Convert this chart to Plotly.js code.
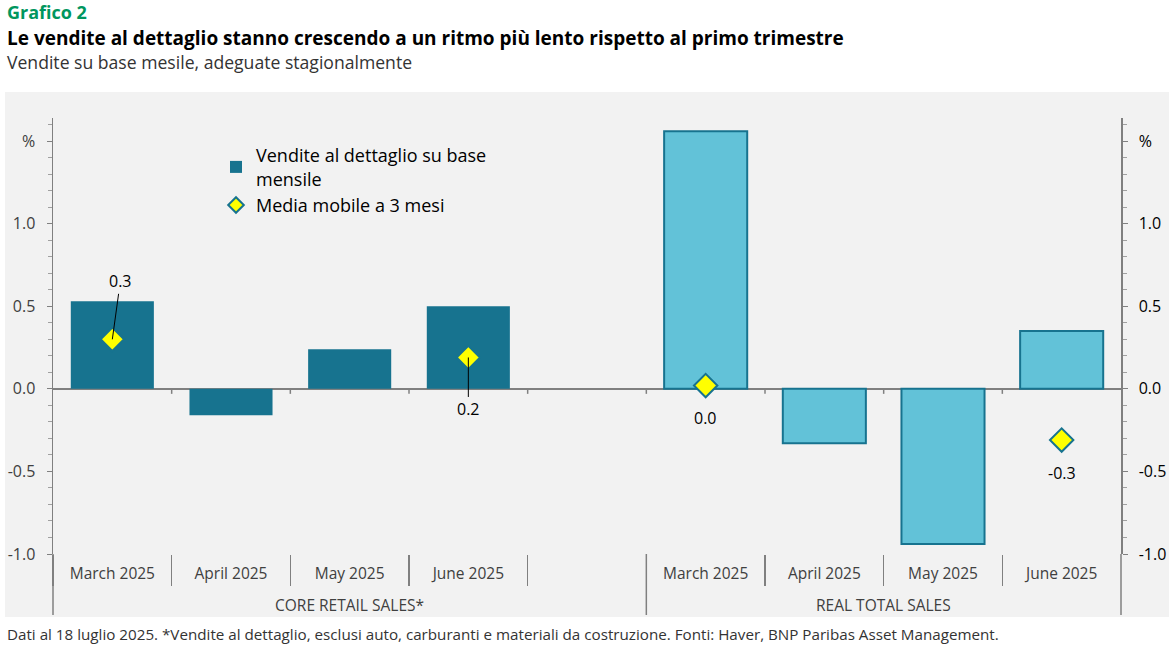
<!DOCTYPE html>
<html>
<head>
<meta charset="utf-8">
<script src="https://cdn.plot.ly/plotly-3.0.1.min.js"></script>
<style>
  html, body { margin: 0; padding: 0; background: #fff; }
  #chart { width: 1169px; height: 645px; }
</style>
</head>
<body>
<div id="chart"></div>
<script>
// Chart data
const groups = ['CORE RETAIL SALES*', 'REAL TOTAL SALES'];
const months = ['March 2025', 'April 2025', 'May 2025', 'June 2025'];
const coreMonthly = [0.53, -0.16, 0.24, 0.50];
const realMonthly = [1.56, -0.33, -0.94, 0.35];
const coreMA = [0.30, null, null, 0.19];
const realMA = [0.02, null, null, -0.31];
const yTickVals = [-1, -0.5, 0, 0.5, 1, 1.5];
const yTickText = ['-1.0', '-0.5', '0.0', '0.5', '1.0', '%'];

const DARK = '#17738f';
const LIGHT = '#62c2d8';
const GRID = '#808080';
const FONT = '"Open Sans", Roboto, sans-serif';

// pixel -> paper helpers for the text blocks around the plot
const W = 1169, H = 645, L = 53, R = 48, T = 118, B = 91;
const px = x => (x - L) / (W - L - R);
const py = y => (H - B - y) / (H - T - B);

// core group keeps an empty fifth slot, as in the original
const coreCats = months.concat(' ');
const nSlots = coreCats.length + months.length;
const split = coreCats.length / nSlots;

const diamond = { symbol: 'diamond', size: 18, color: '#ffff00', line: { color: DARK, width: 2 } };

const traces = [
  {
    type: 'bar', name: 'Vendite al dettaglio su base<br>mensile',
    x: coreCats, y: coreMonthly.concat(null), xaxis: 'x', yaxis: 'y',
    marker: { color: DARK, line: { width: 0 } }, hoverinfo: 'skip'
  },
  {
    type: 'bar', showlegend: false,
    x: months, y: realMonthly, xaxis: 'x2', yaxis: 'y2',
    marker: { color: LIGHT, line: { color: DARK, width: 2 } }, hoverinfo: 'skip'
  },
  {
    type: 'scatter', mode: 'markers', name: 'Media mobile a 3 mesi',
    x: months, y: coreMA, xaxis: 'x', yaxis: 'y',
    marker: diamond, hoverinfo: 'skip'
  },
  {
    type: 'scatter', mode: 'markers', showlegend: false,
    x: months, y: realMA, xaxis: 'x2', yaxis: 'y2',
    marker: diamond, hoverinfo: 'skip'
  }
];

// value labels for the moving average
const labels = [];
const labelOffsets = [
  [{ ax: 8, ay: -58, arrow: true }, null, null, { ax: 0, ay: 52, arrow: true }],
  [{ shift: -32 }, null, null, { shift: -33 }]
];
[[coreMA, 'x', 'y'], [realMA, 'x2', 'y2']].forEach(([vals, xr, yr], g) => {
  vals.forEach((v, i) => {
    if (v === null) return;
    const o = labelOffsets[g][i];
    const a = {
      x: months[i], y: v, xref: xr, yref: yr,
      text: v.toFixed(1), font: { family: FONT, size: 16, color: '#000' }
    };
    if (o.arrow) {
      Object.assign(a, { showarrow: true, arrowhead: 0, arrowwidth: 1, arrowcolor: '#000',
        ax: o.ax, ay: o.ay, standoff: 0, startstandoff: 0 });
    } else {
      Object.assign(a, { showarrow: false, yshift: o.shift });
    }
    labels.push(a);
  });
});

// group names under the month labels
const groupLabels = groups.map((g, i) => ({
  text: g, xref: 'paper', yref: 'paper',
  x: i === 0 ? split / 2 : (1 + split) / 2, y: py(605),
  xanchor: 'center', yanchor: 'middle', showarrow: false,
  font: { family: FONT, size: 15.5, color: '#404040' }
}));

const textBlocks = [
  { text: '<b>Grafico 2</b>', y: 12, size: 18, color: '#00965e' },
  { text: '<b>Le vendite al dettaglio stanno crescendo a un ritmo più lento rispetto al primo trimestre</b>', y: 38, size: 19, color: '#000' },
  { text: 'Vendite su base mesile, adeguate stagionalmente', y: 62, size: 17.6, color: '#333' },
  { text: 'Dati al 18 luglio 2025. *Vendite al dettaglio, esclusi auto, carburanti e materiali da costruzione. Fonti: Haver, BNP Paribas Asset Management.', y: 634, size: 15.2, color: '#333' }
].map(t => ({
  text: t.text, xref: 'paper', yref: 'paper', x: px(5), y: py(t.y),
  xanchor: 'left', yanchor: 'middle', showarrow: false,
  font: { family: FONT, size: t.size, color: t.color }
}));

// short ticks hanging from the zero line, and the long group dividers
const decor = [];
for (let k = 1; k < nSlots; k++) {
  decor.push({
    type: 'line', xref: 'paper', yref: 'y', x0: k / nSlots, x1: k / nSlots,
    ysizemode: 'pixel', yanchor: 0, y0: 0, y1: -5,
    line: { color: GRID, width: 1.5 }
  });
}
[0, split, 1].forEach(x => decor.push({
  type: 'line', xref: 'paper', yref: 'paper', x0: x, x1: x, y0: py(615), y1: 0,
  line: { color: GRID, width: 1.5 }
}));

const yCommon = {
  range: [-1.0, 1.64], tickmode: 'array', tickvals: yTickVals, ticktext: yTickText,
  ticks: 'outside', ticklen: 5, tickcolor: GRID, tickwidth: 1,
  minor: { tickmode: 'linear', tick0: 0, dtick: 0.1, ticks: 'outside', ticklen: 4, tickcolor: '#a0a0a0', showgrid: false },
  showgrid: false, showline: true, linecolor: GRID, linewidth: 1.5,
  zeroline: true, zerolinecolor: GRID, zerolinewidth: 2,
  ticklabelstandoff: 8, fixedrange: true
};

const xCommon = {
  type: 'category', tickson: 'boundaries', ticks: 'outside', ticklen: 31,
  tickcolor: GRID, tickwidth: 1.5, showline: false, showgrid: false, zeroline: false,
  ticklabelstandoff: 8,
  tickfont: { family: FONT, size: 15.5, color: '#404040' }, fixedrange: true
};

const layout = {
  width: W, height: H,
  margin: { l: L, r: R, t: T, b: B, pad: 0 },
  paper_bgcolor: '#ffffff', plot_bgcolor: 'rgba(0,0,0,0)',
  font: { family: FONT, color: '#404040' },
  barmode: 'overlay', bargap: 0.3,
  showlegend: true,
  legend: {
    x: px(216), y: py(137), xanchor: 'left', yanchor: 'top',
    bgcolor: 'rgba(0,0,0,0)', font: { family: FONT, size: 18, color: '#000' },
    itemsizing: 'constant', tracegroupgap: 0
  },
  xaxis: Object.assign({}, xCommon, {
    domain: [0, split], anchor: 'y', categoryorder: 'array', categoryarray: coreCats,
    range: [-0.5, coreCats.length - 0.5]
  }),
  xaxis2: Object.assign({}, xCommon, {
    domain: [split, 1], anchor: 'y', categoryorder: 'array', categoryarray: months,
    range: [-0.5, months.length - 0.5]
  }),
  yaxis: Object.assign({}, yCommon, {
    anchor: 'x', tickfont: { family: FONT, size: 16, color: '#404040' }
  }),
  yaxis2: Object.assign({}, yCommon, {
    anchor: 'x2', overlaying: 'y', side: 'right',
    tickfont: { family: FONT, size: 16, color: '#000' }
  }),
  shapes: [
    { type: 'rect', xref: 'paper', yref: 'paper', x0: px(5), x1: px(1169), y0: py(617), y1: py(92),
      fillcolor: '#f2f2f2', line: { width: 0 }, layer: 'below' }
  ].concat(decor),
  annotations: textBlocks.concat(groupLabels, labels)
};

Plotly.newPlot('chart', traces, layout, { staticPlot: true });
</script>
</body>
</html>
